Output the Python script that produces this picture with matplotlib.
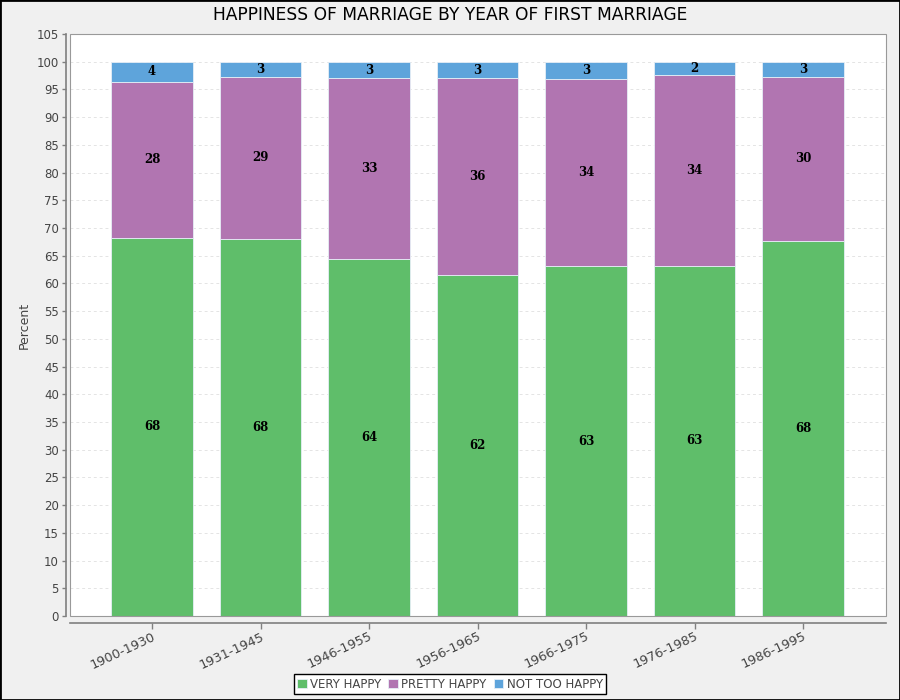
import matplotlib
matplotlib.use("Agg")
import matplotlib.pyplot as plt
from matplotlib.patches import Rectangle
import numpy as np

categories = ["1900-1930", "1931-1945", "1946-1955", "1956-1965", "1966-1975", "1976-1985", "1986-1995"]
very_happy = [68.2, 68.0, 64.4, 61.5, 63.1, 63.2, 67.7]
pretty_happy = [28.2, 29.3, 32.6, 35.5, 33.7, 34.4, 29.6]
not_too_happy = [3.6, 2.7, 3.0, 3.0, 3.2, 2.4, 2.7]
series_names = ["VERY HAPPY", "PRETTY HAPPY", "NOT TOO HAPPY"]
colors = ["#5fbe6a", "#b175b1", "#5ea4db"]
y_ticks = list(range(0, 106, 5))

fig = plt.figure(figsize=(9, 7), dpi=100, facecolor="#f0f0f0")
fig.patches.append(Rectangle((0, 0), 1, 1, transform=fig.transFigure,
                             fill=False, edgecolor="black", linewidth=2, zorder=10))
ax = fig.add_axes([70/900, 1-616/700, (886-70)/900, (616-34)/700])
ax.set_facecolor("white")

x = np.arange(len(categories))
width = 0.747
bottom = np.zeros(len(categories))
for vals, name, col in zip([very_happy, pretty_happy, not_too_happy], series_names, colors):
    vals = np.array(vals)
    ax.bar(x, vals, width, bottom=bottom, color=col, label=name,
           edgecolor="#e6eef6", linewidth=0.6, zorder=3)
    for xi, b, v in zip(x, bottom, vals):
        ax.text(xi, b + v/2, f"{v:.0f}", ha="center", va="center",
                fontsize=8.5, fontweight="bold", family="DejaVu Serif", color="black", zorder=4)
    bottom = bottom + vals

ax.set_xlim(-0.756, 6.765)
ax.set_ylim(0, 105)
ax.set_yticks(y_ticks)
ax.yaxis.grid(True, color="#e4e4e4", linestyle=(0, (3, 3)), linewidth=0.7, zorder=0)
ax.set_axisbelow(True)
ax.set_xticks(x)
ax.set_xticklabels(categories)
ax.tick_params(axis="both", colors="#808080", labelcolor="#444444", length=4, width=1, labelsize=8.5)
ax.tick_params(axis="x", pad=1, labelsize=9.3)
ax.tick_params(axis="y", length=3, pad=2)

for s in ["top", "right"]:
    ax.spines[s].set_visible(False)
ax.spines["left"].set_position(("outward", 3))
ax.spines["bottom"].set_position(("outward", 5))
ax.spines["left"].set_color("#808080")
ax.spines["bottom"].set_color("#808080")
ax.spines["left"].set_linewidth(1.2)
ax.spines["bottom"].set_linewidth(1.2)
ax.add_patch(Rectangle((0, 0), 1, 1, transform=ax.transAxes, fill=False,
                       edgecolor="#999999", linewidth=0.8, clip_on=False, zorder=5))

ax.set_ylabel("Percent", fontsize=9, color="#444444", labelpad=4)
fig.text(0.5, 1-15/700, "HAPPINESS OF MARRIAGE BY YEAR OF FIRST MARRIAGE",
         ha="center", va="center", fontsize=12.3, color="black")

leg = fig.legend(loc="center", bbox_to_anchor=(450/900, 1-684/700), ncol=3,
                 frameon=True, fancybox=False, edgecolor="black", fontsize=8.5,
                 handlelength=0.8, handleheight=0.8, handletextpad=0.3, columnspacing=0.6,
                 borderpad=0.3, framealpha=1)
leg.get_frame().set_linewidth(1.0)
for t in leg.get_texts():
    t.set_color("#444444")

fig.canvas.draw()
for lab in ax.xaxis.get_majorticklabels():
    lab.set_rotation(25)
    lab.set_horizontalalignment("right")
    lab.set_rotation_mode("anchor")

fig.savefig("out.png", dpi=100, facecolor=fig.get_facecolor())
